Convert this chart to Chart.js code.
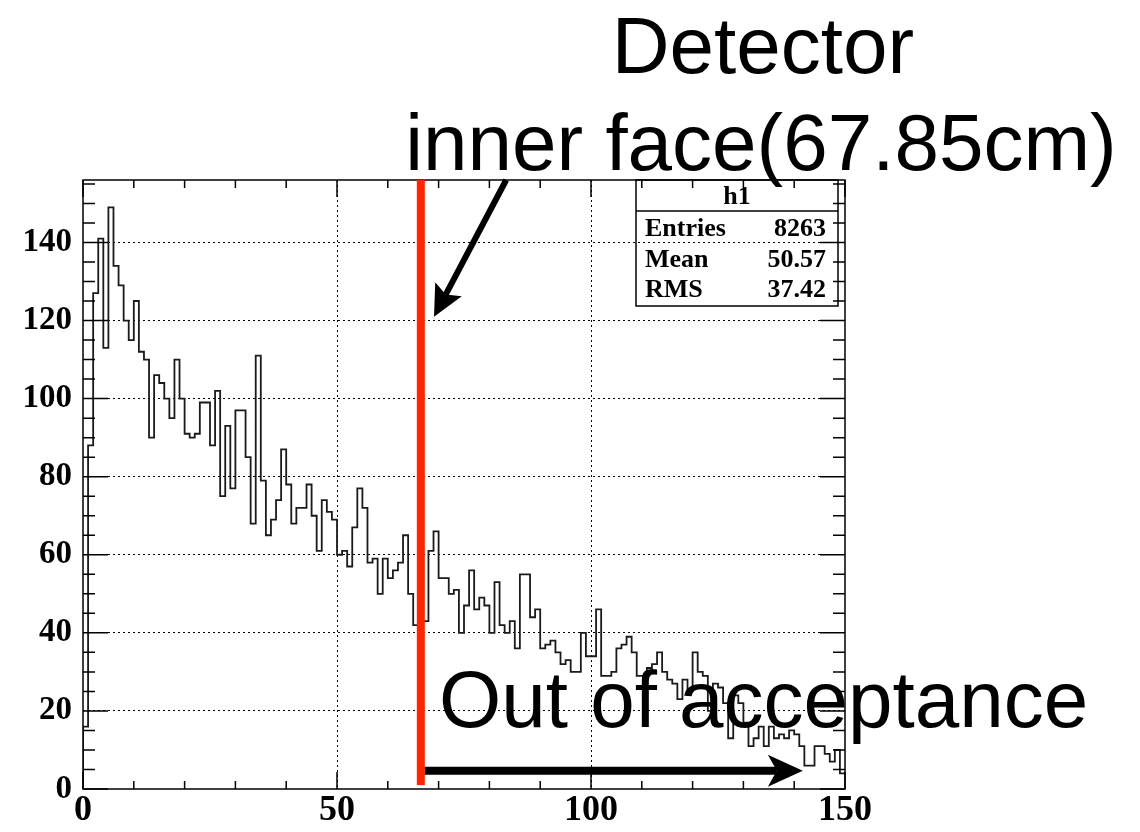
<!DOCTYPE html>
<html lang="en">
<head>
  <meta charset="UTF-8">
  <title>h1 - detector inner face</title>
  <script src="https://cdn.jsdelivr.net/npm/chart.js"></script>
  <style>
    html, body { margin: 0; padding: 0; background: #fff; }
    #wrap { width: 1140px; height: 832px; }
  </style>
</head>
<body>
  <div id="wrap"><canvas id="h1" width="1140" height="832"></canvas></div>

  <script>
    // h1 bin contents, 150 bins of 1 cm
    const binCounts = [
      16, 88, 127, 141, 113, 149, 134, 129, 120, 115,
      125, 112, 110, 90, 106, 104, 100, 95, 110, 100,
      91, 90, 91, 99, 99, 88, 102, 75, 93, 77,
      97, 97, 85, 68, 111, 79, 65, 69, 74, 87,
      78, 68, 72, 72, 78, 70, 61, 74, 71, 69,
      60, 61, 57, 67, 77, 72, 58, 59, 50, 59,
      54, 56, 58, 65, 50, 42, 43, 43, 61, 66,
      54, 54, 50, 51, 40, 47, 56, 46, 49, 47,
      40, 53, 42, 40, 43, 36, 55, 55, 44, 46,
      36, 37, 38, 35, 32, 33, 30, 30, 40, 34,
      34, 46, 29, 29, 30, 36, 37, 39, 35, 29,
      29, 31, 32, 35, 30, 28, 27, 23, 28, 25,
      35, 30, 29, 20, 27, 26, 22, 13, 24, 22,
      17, 11, 13, 16, 11, 16, 13, 14, 13, 15,
      14, 11, 6, 6, 11, 11, 9, 7, 10, 4
    ];
    const xMin = 0;
    const xMax = 150;
    const binWidth = 1;
    const yMax = 156;
    const xLabelStep = 50;
    const xMinorStep = 10;
    const yLabelStep = 20;
    const yMinorStep = 5;

    const innerFaceX = 66.5;      // red line, detector inner face
    const acceptanceEndX = 141.7; // end of the "out of acceptance" arrow
    const statsTitle = 'h1';
    const statsNames = ['Entries', 'Mean', 'RMS'];
    const statsValues = ['8263', '50.57', '37.42'];

    // step points for the histogram outline: each bin starts at its low edge
    const histPoints = [{ x: xMin, y: 0 }];
    binCounts.forEach((c, i) => histPoints.push({ x: xMin + i * binWidth, y: c }));
    histPoints.push({ x: xMax, y: binCounts[binCounts.length - 1] });

    const serif = '"Liberation Serif", "DejaVu Serif", serif';
    const sans = '"Liberation Sans", Arial, sans-serif';

    function drawArrow(ctx, x1, y1, x2, y2, width, headLen, headHalf, notch) {
      const dx = x2 - x1, dy = y2 - y1;
      const len = Math.hypot(dx, dy);
      const ux = dx / len, uy = dy / len;
      const px = -uy, py = ux;
      const bx = x2 - ux * headLen, by = y2 - uy * headLen;
      ctx.beginPath();
      ctx.lineWidth = width;
      ctx.lineCap = 'butt';
      ctx.moveTo(x1, y1);
      ctx.lineTo(bx + ux * notch, by + uy * notch);
      ctx.stroke();
      ctx.beginPath();
      ctx.moveTo(x2, y2);
      ctx.lineTo(bx + px * headHalf, by + py * headHalf);
      ctx.lineTo(bx + ux * notch, by + uy * notch);
      ctx.lineTo(bx - px * headHalf, by - py * headHalf);
      ctx.closePath();
      ctx.fill();
    }

    // ROOT style frame, inward ticks, stats box and the slide annotations
    const overlay = {
      id: 'overlay',
      afterDatasetsDraw(chart) {
        const { ctx, chartArea: a, scales: { x, y } } = chart;
        ctx.save();

        // frame
        ctx.strokeStyle = '#000';
        ctx.lineWidth = 1.5;
        ctx.strokeRect(a.left, a.top, a.right - a.left, a.bottom - a.top);

        // ticks on all four sides
        ctx.beginPath();
        for (let v = xMin; v <= xMax; v += xMinorStep) {
          const px = x.getPixelForValue(v);
          const len = v % xLabelStep === 0 ? 17 : 8;
          ctx.moveTo(px, a.bottom); ctx.lineTo(px, a.bottom - len);
          ctx.moveTo(px, a.top); ctx.lineTo(px, a.top + len);
        }
        for (let v = 0; v <= yMax; v += yMinorStep) {
          const py = y.getPixelForValue(v);
          const len = v % yLabelStep === 0 ? 25 : 12;
          ctx.moveTo(a.left, py); ctx.lineTo(a.left + len, py);
          ctx.moveTo(a.right, py); ctx.lineTo(a.right - len, py);
        }
        ctx.stroke();

        // stats box
        const bl = a.right - 209, br = a.right - 7, bt = a.top, bb = a.top + 126;
        ctx.lineWidth = 1.5;
        ctx.strokeRect(bl, bt, br - bl, bb - bt);
        ctx.beginPath();
        ctx.moveTo(bl, bt + 31); ctx.lineTo(br, bt + 31);
        ctx.stroke();
        ctx.fillStyle = '#000';
        ctx.font = 'bold 26px ' + serif;
        ctx.textBaseline = 'alphabetic';
        ctx.textAlign = 'center';
        ctx.fillText(statsTitle, (bl + br) / 2, bt + 24);
        statsNames.forEach((name, i) => {
          const by = bt + 56 + i * 30.5;
          ctx.textAlign = 'left';
          ctx.fillText(name, bl + 9, by);
          ctx.textAlign = 'right';
          ctx.fillText(statsValues[i], br - 12, by);
        });

        // red line at the detector inner face
        const rx = x.getPixelForValue(innerFaceX);
        ctx.fillStyle = '#ff2600';
        ctx.fillRect(rx - 4, a.top, 8, y.getPixelForValue(1) - a.top);

        // arrows
        ctx.fillStyle = '#000';
        ctx.strokeStyle = '#000';
        const ay = y.getPixelForValue(4.7);
        drawArrow(ctx, rx + 4, ay, x.getPixelForValue(acceptanceEndX), ay, 8, 35, 16, 9);
        drawArrow(ctx, x.getPixelForValue(83.3), a.top,
                  x.getPixelForValue(69.1), y.getPixelForValue(121), 6, 31, 15, 6);

        // slide text
        ctx.font = '80px ' + sans;
        ctx.textBaseline = 'alphabetic';
        ctx.textAlign = 'center';
        ctx.fillText('Detector', 763, 73);
        ctx.fillText('inner face(67.85cm)', 761, 170);
        ctx.textAlign = 'left';
        ctx.fillText('Out of acceptance', 439, 727);

        ctx.restore();
      }
    };

    const dotted = [2, 3];
    const ctx = document.getElementById('h1').getContext('2d');
    const chart = new Chart(ctx, {
      type: 'line',
      data: {
        datasets: [{
          label: 'h1',
          data: histPoints,
          stepped: 'before',
          borderColor: '#1a1a1a',
          borderWidth: 1.8,
          pointRadius: 0,
          fill: false,
          tension: 0
        }]
      },
      options: {
        responsive: false,
        animation: false,
        layout: { padding: { top: 180, right: 295, left: 0, bottom: 0 } },
        plugins: {
          legend: { display: false },
          tooltip: { enabled: false }
        },
        scales: {
          x: {
            type: 'linear',
            min: xMin,
            max: xMax,
            afterFit: s => { s.height = 43; },
            ticks: {
              stepSize: xLabelStep,
              autoSkip: false,
              maxRotation: 0,
              padding: 0,
              color: '#000',
              font: { family: serif, weight: 'bold', size: 36 }
            },
            grid: {
              drawTicks: false,
              lineWidth: 1,
              color: c => (c.tick && c.tick.value > xMin && c.tick.value < xMax) ? '#000' : 'rgba(0,0,0,0)'
            },
            border: { display: false, dash: dotted }
          },
          y: {
            min: 0,
            max: yMax,
            afterFit: s => { s.width = 83; },
            ticks: {
              stepSize: yLabelStep,
              includeBounds: false,
              padding: 11,
              color: '#000',
              font: { family: serif, weight: 'bold', size: 33 }
            },
            grid: {
              drawTicks: false,
              lineWidth: 1,
              color: c => (c.tick && c.tick.value > 0) ? '#000' : 'rgba(0,0,0,0)'
            },
            border: { display: false, dash: dotted }
          }
        }
      },
      plugins: [overlay]
    });
  </script>
</body>
</html>
